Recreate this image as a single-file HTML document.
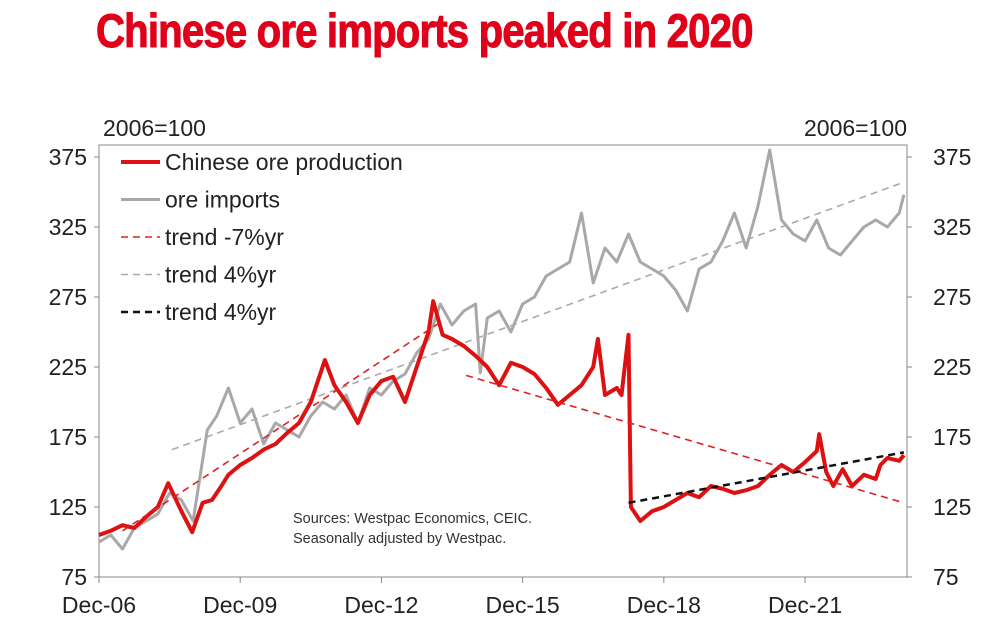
<!DOCTYPE html>
<html><head><meta charset="utf-8"><style>
body{margin:0;background:#fff;width:999px;height:639px;overflow:hidden;font-family:"Liberation Sans",sans-serif}
#title{position:absolute;left:96px;top:3px;font-family:"Liberation Sans Narrow","Liberation Sans",sans-serif;font-weight:bold;font-size:47px;color:#e1001a;letter-spacing:-1px;transform:scaleX(0.855);transform-origin:left top;white-space:nowrap;-webkit-text-stroke:1px #e1001a}
</style></head><body>
<div id="title">Chinese ore imports peaked in 2020</div>
<svg id="chart" width="999" height="639" style="position:absolute;left:0;top:0"></svg>
<script>
const xTickLabels=["Dec-06","Dec-09","Dec-12","Dec-15","Dec-18","Dec-21"];
const xTickYears=[0,3,6,9,12,15];
const yTicks=[75,125,175,225,275,325,375];
const prodT=[0,0.25,0.5,0.75,1,1.25,1.47,1.75,1.98,2.2,2.4,2.6,2.75,3,3.25,3.5,3.75,4,4.25,4.5,4.8,5,5.25,5.5,5.75,6,6.25,6.5,6.75,7,7.1,7.3,7.5,7.75,8,8.25,8.5,8.75,9,9.25,9.5,9.75,10,10.25,10.5,10.6,10.75,11,11.1,11.25,11.3,11.5,11.75,12,12.25,12.5,12.75,13,13.25,13.5,13.75,14,14.25,14.5,14.75,15,15.25,15.3,15.45,15.6,15.8,16,16.25,16.5,16.6,16.75,17,17.1];
const prodV=[105,108,112,110,118,125,142,122,107,128,130,140,148,155,160,166,170,178,185,200,230,212,200,185,205,215,218,200,225,250,272,248,245,240,233,225,212,228,225,220,210,198,205,212,225,245,205,210,205,248,125,115,122,125,130,135,132,140,138,135,137,140,148,155,150,157,165,177,150,140,152,140,148,145,155,160,158,162];
const impT=[0,0.25,0.5,0.75,1,1.25,1.5,1.75,2,2.3,2.5,2.75,3,3.25,3.5,3.75,4,4.25,4.5,4.75,5,5.25,5.5,5.75,6,6.25,6.5,6.75,7,7.25,7.5,7.75,8,8.1,8.25,8.5,8.75,9,9.25,9.5,9.75,10,10.25,10.5,10.75,11,11.25,11.5,11.75,12,12.25,12.5,12.75,13,13.25,13.5,13.75,14,14.25,14.5,14.75,15,15.25,15.5,15.75,16,16.25,16.5,16.75,17,17.1];
const impV=[100,105,95,110,115,120,135,130,115,180,190,210,185,195,170,185,180,175,190,200,195,205,185,210,205,215,220,235,245,270,255,265,270,221,260,265,250,270,275,290,295,300,335,285,310,300,320,300,295,290,280,265,295,300,315,335,310,340,380,330,320,315,330,310,305,315,325,330,325,335,348];
const trendA=[[0.5,108],[7.3,258]];
const trendB=[[7.8,219],[17.1,128]];
const trendC=[[1.55,166],[17.1,357]];
const trendD=[[11.25,128],[17.1,164]];
const X0=99,X1=907,Y0=577,Y1=145;
const xs=t=>99+t*47.07;
const ys=v=>577-(v-75)*1.4;
const svg=document.getElementById('chart');const NS='http://www.w3.org/2000/svg';
function mk(tag,at,par){const e=document.createElementNS(NS,tag);for(const k in at)e.setAttribute(k,at[k]);(par||svg).appendChild(e);return e;}
const frame=mk('rect',{x:X0,y:Y1,width:X1-X0,height:Y0-Y1,fill:'none',stroke:'#888','stroke-width':1});


yTicks.forEach(v=>{const y=ys(v);
 mk('line',{x1:X0-5,x2:X0,y1:y,y2:y,stroke:'#888'});mk('line',{x1:X1,x2:X1+5,y1:y,y2:y,stroke:'#888'});
 const l=mk('text',{x:X0-12,y:y+8,'text-anchor':'end','font-size':23,fill:'#222'});l.textContent=v;
 
 
 const r=mk('text',{x:X1+26,y:y+8,'font-size':23,fill:'#222'});r.textContent=v;
 
 
});
xTickYears.forEach((t,i)=>{const x=xs(t);mk('line',{x1:x,x2:x,y1:Y0,y2:Y0+6,stroke:'#888'});
 const l=mk('text',{x:x,y:Y0+36,'text-anchor':'middle','font-size':23,fill:'#222'});l.textContent=xTickLabels[i];
 
 });
const u1=mk('text',{x:103,y:136,'font-size':23,fill:'#222'});u1.textContent='2006=100';


const u2=mk('text',{x:907,y:136,'font-size':23,'text-anchor':'end',fill:'#222'});u2.textContent='2006=100';


function path(T,V){return T.map((t,i)=>(i?'L':'M')+xs(t).toFixed(1)+','+ys(V[i]).toFixed(1)).join('');}
function tl(p,c,w,n){const e=mk('line',{x1:xs(p[0][0]),y1:ys(p[0][1]),x2:xs(p[1][0]),y2:ys(p[1][1]),stroke:c,'stroke-width':w,'stroke-dasharray':'7,5'});}
tl(trendC,'#aaa',1.6,'trend-imports');
const g=mk('path',{d:path(impT,impV),fill:'none',stroke:'#a8a8a8','stroke-width':3,'stroke-linejoin':'round'});


const r=mk('path',{d:path(prodT,prodV),fill:'none',stroke:'#dd1111','stroke-width':4,'stroke-linejoin':'round'});


tl(trendA,'#dd2222',1.6,'trend-production-early');
tl(trendB,'#dd2222',1.6,'trend-production-late');
tl(trendD,'#111',2.5,'trend-production-recent');
const leg=[['Chinese ore production','#dd1111',4,null],['ore imports','#a8a8a8',3,null],['trend -7%yr','#dd2222',1.6,'7,5'],['trend 4%yr','#aaa',1.6,'7,5'],['trend 4%yr','#111',2.5,'7,5']];
leg.forEach((d,i)=>{const y=162+i*37.5;const a={x1:121,x2:160,y1:y,y2:y,stroke:d[1],'stroke-width':d[2]};if(d[3])a['stroke-dasharray']=d[3];mk('line',a);
 const t=mk('text',{x:165,y:y+8,'font-size':23,fill:'#222'});t.textContent=d[0];
 
 });
['Sources: Westpac Economics, CEIC.','Seasonally adjusted by Westpac.'].forEach((s,i)=>{const t=mk('text',{x:293,y:523+i*20,'font-size':14.5,fill:'#333'});t.textContent=s;
 
 });
</script></body></html>
